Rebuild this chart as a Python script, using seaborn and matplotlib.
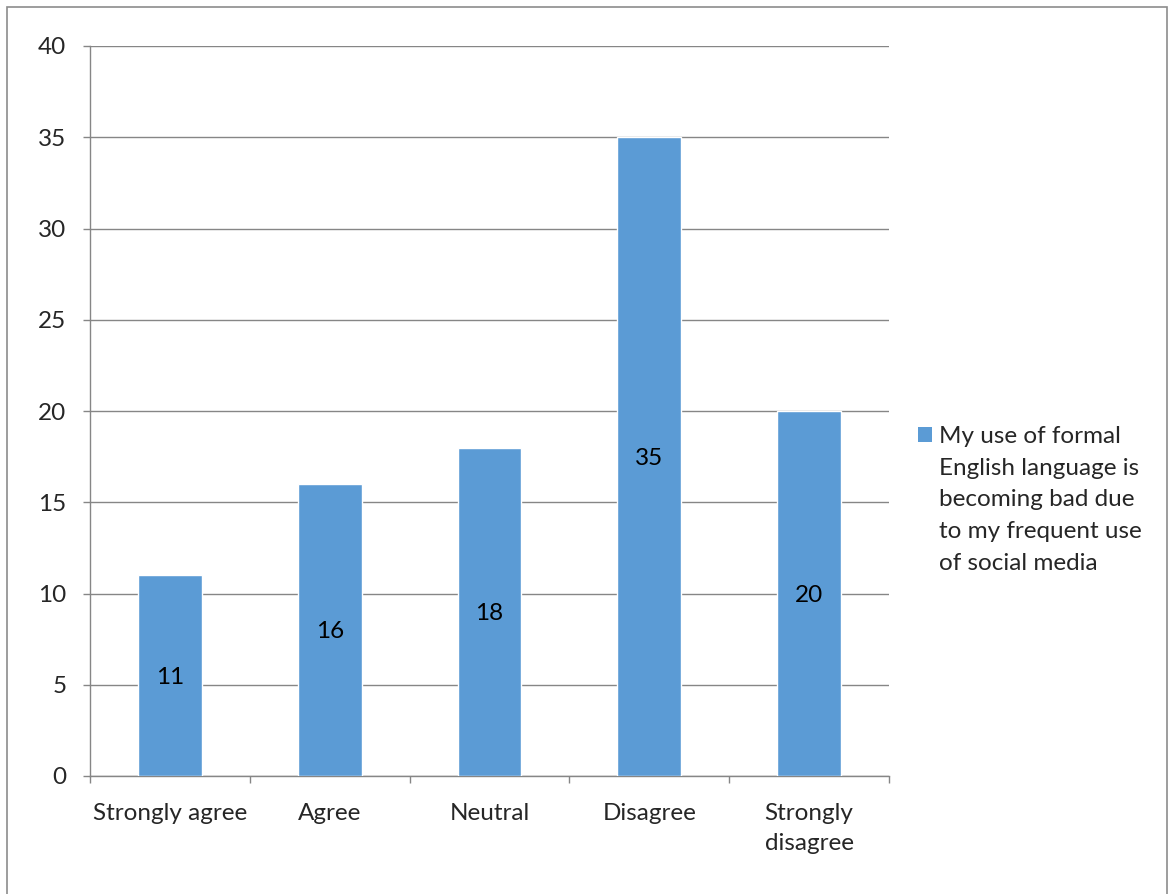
import matplotlib
matplotlib.use("Agg")
import matplotlib.pyplot as plt
from matplotlib.patches import Patch, Rectangle
import seaborn as sns
import pandas as pd

categories = ["Strongly agree", "Agree", "Neutral", "Disagree", "Strongly\ndisagree"]
counts = [11, 16, 18, 35, 20]
series_lines = ["My use of formal", "English language is", "becoming bad due",
                "to my frequent use", "of social media"]
y_ticks = [0, 5, 10, 15, 20, 25, 30, 35, 40]

BAR = "#5B9BD5"
GRID = "#868686"
FS = 17.5

sns.set_theme(style="white")
plt.rcParams["font.family"] = ["Lato", "DejaVu Sans"]

df = pd.DataFrame({"category": categories, "count": counts})

fig = plt.figure(figsize=(11.69, 8.94), dpi=100)
ax = fig.add_axes([90 / 1169, 1 - 776 / 894, (889 - 90) / 1169, (776 - 46) / 894])

sns.barplot(data=df, x="category", y="count", color=BAR, width=0.4,
            saturation=1, ax=ax, zorder=3)

# value labels centred inside each bar
for i, v in enumerate(counts):
    ax.text(i, v / 2, str(v), ha="center", va="center_baseline", fontsize=FS,
            color="black", zorder=4)

ax.set_xlim(-0.5, len(categories) - 0.5)
ax.set_ylim(0, 40)
ax.set_yticks(y_ticks)
ax.set_yticklabels([str(t) for t in y_ticks], fontsize=FS)
ax.yaxis.grid(True, color=GRID, linewidth=1, zorder=0)
ax.set_axisbelow(True)

# category labels without marks, boundary marks without labels
ax.set_xticks(range(len(categories)))
ax.set_xticklabels(categories, fontsize=FS, linespacing=1.55)
ax.set_xticks([i - 0.5 for i in range(len(categories) + 1)], minor=True)
ax.tick_params(axis="x", which="major", length=0, pad=19.5)
ax.tick_params(axis="x", which="minor", length=5, width=1, color=GRID, direction="out")
ax.tick_params(axis="y", length=5, width=1, color=GRID, direction="out", pad=12)
ax.xaxis.set_tick_params(bottom=True, which="minor")
ax.yaxis.set_tick_params(left=True)
ax.set_xlabel("")
ax.set_ylabel("")

for side in ["top", "right"]:
    ax.spines[side].set_visible(False)
for side in ["left", "bottom"]:
    ax.spines[side].set_color(GRID)
    ax.spines[side].set_linewidth(1)

# series legend: square key beside the first line of the wrapped name
handles = [Patch(facecolor=BAR, edgecolor="none")] + \
          [Patch(facecolor="none", edgecolor="none") for _ in series_lines[1:]]
leg = fig.legend(handles=handles, labels=series_lines,
                 loc="upper left", bbox_to_anchor=(918 / 1169, 1 - 426 / 894),
                 frameon=False, fontsize=FS, handlelength=0.58, handleheight=0.58,
                 handletextpad=0.3, labelspacing=0.44, borderpad=0, borderaxespad=0)

# outer chart frame
fig.add_artist(Rectangle((7 / 1169, -0.01), (1167 - 7) / 1169, 1 - 7 / 894 + 0.01,
                         transform=fig.transFigure, fill=False, edgecolor="#8C8C8C",
                         linewidth=1.2))

fig.savefig("out.png", dpi=100)
